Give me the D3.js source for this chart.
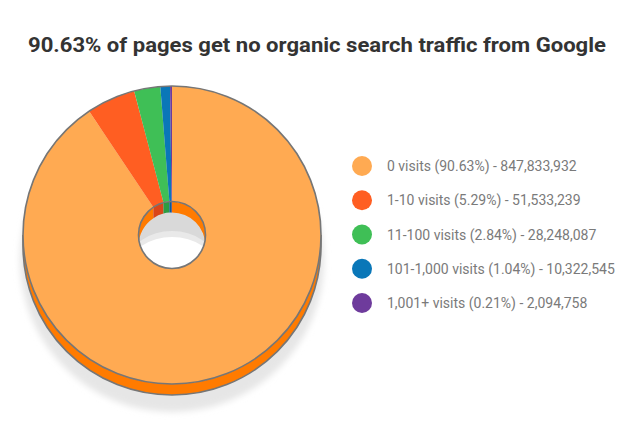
<!DOCTYPE html>
<html>
<head>
<meta charset="utf-8">
<script src="https://cdn.jsdelivr.net/npm/d3@7"></script>
<style>
  body { margin: 0; background: #fff; }
  svg { display: block; }
</style>
</head>
<body>
<script>
const title = "90.63% of pages get no organic search traffic from Google";
const categories = ["0 visits", "1-10 visits", "11-100 visits", "101-1,000 visits", "1,001+ visits"];
const percents = [90.63, 5.29, 2.84, 1.04, 0.21];
const pageCounts = [847833932, 51533239, 28248087, 10322545, 2094758];
const colors = ["#ffaa52", "#ff5e22", "#3fbf56", "#0a77b8", "#6e3b9c"];
const sideColors = ["#ff7b00", "#d9461a", "#2c9c42", "#075e94", "#52287a"];

const width = 632, height = 425;
const cx = 172, cy = 235, R = 149, r = 33.5, depth = 11;

const svg = d3.select("body").append("svg")
  .attr("width", width)
  .attr("height", height);

const defs = svg.append("defs");
defs.append("filter").attr("id", "blur")
  .attr("x", "-10%").attr("y", "-10%").attr("width", "120%").attr("height", "120%")
  .append("feGaussianBlur").attr("stdDeviation", 3);
defs.append("clipPath").attr("id", "hole")
  .append("circle").attr("cx", cx).attr("cy", cy).attr("r", r);

// title
svg.append("text")
  .attr("x", 317)
  .attr("y", 52)
  .attr("text-anchor", "middle")
  .style("font-family", "Roboto, sans-serif")
  .style("font-weight", 700)
  .style("font-size", "20px")
  .attr("fill", "#333")
  .attr("textLength", 578)
  .attr("lengthAdjust", "spacingAndGlyphs")
  .text(title);

const pie = d3.pie().sort(null).value(d => d.pct);
const slices = pie(categories.map((c, i) => ({ name: c, pct: percents[i], count: pageCounts[i], i })));

// band between an arc and the same arc moved down by depth
function wallPath(a0, a1, rad) {
  const p = d3.path();
  p.moveTo(cx + rad * Math.sin(a0), cy - rad * Math.cos(a0));
  p.arc(cx, cy, rad, a0 - Math.PI / 2, a1 - Math.PI / 2);
  p.lineTo(cx + rad * Math.sin(a1), cy + depth - rad * Math.cos(a1));
  p.arc(cx, cy + depth, rad, a1 - Math.PI / 2, a0 - Math.PI / 2, true);
  p.closePath();
  return p.toString();
}

function clipRange(d, lo, hi) {
  const a0 = Math.max(d.startAngle, lo), a1 = Math.min(d.endAngle, hi);
  return a1 > a0 ? [a0, a1] : null;
}

// shadow
svg.append("circle")
  .attr("cx", cx)
  .attr("cy", cy + 25)
  .attr("r", R + 3)
  .attr("fill", "#e6e6e6")
  .attr("filter", "url(#blur)");

// outer side of the disc (only the lower half shows)
const outerSide = [];
slices.forEach(d => {
  const rg = clipRange(d, Math.PI / 2, 3 * Math.PI / 2);
  if (rg) outerSide.push({ rg, i: d.data.i });
});
svg.append("g").selectAll("path")
  .data(outerSide)
  .join("path")
  .attr("d", s => wallPath(s.rg[0], s.rg[1], R))
  .attr("fill", s => sideColors[s.i]);

const rim = d3.path();
rim.moveTo(cx + R, cy);
rim.lineTo(cx + R, cy + depth);
rim.arc(cx, cy + depth, R, 0, Math.PI);
rim.lineTo(cx - R, cy);
svg.append("path")
  .attr("d", rim.toString())
  .attr("fill", "none")
  .attr("stroke", "#767676")
  .attr("stroke-width", 1.6);

// top face
const arc = d3.arc().innerRadius(r).outerRadius(R);
svg.append("g")
  .attr("transform", `translate(${cx},${cy})`)
  .selectAll("path")
  .data(slices)
  .join("path")
  .attr("d", arc)
  .attr("fill", d => colors[d.data.i]);

svg.append("circle")
  .attr("cx", cx).attr("cy", cy).attr("r", R)
  .attr("fill", "none")
  .attr("stroke", "#767676")
  .attr("stroke-width", 1.6);

// the hole: shaded floor, then the far wall
const hole = svg.append("g").attr("clip-path", "url(#hole)");
hole.append("circle").attr("cx", cx).attr("cy", cy).attr("r", r).attr("fill", "#d9d9d9");
hole.append("ellipse").attr("cx", cx).attr("cy", cy + 26).attr("rx", 42).attr("ry", 30).attr("fill", "#e9e9e9");
hole.append("ellipse").attr("cx", cx).attr("cy", cy + 31).attr("rx", 42).attr("ry", 29).attr("fill", "#ffffff");

const innerWall = [];
slices.forEach(d => {
  [[0, Math.PI / 2], [3 * Math.PI / 2, 2 * Math.PI]].forEach(([lo, hi]) => {
    const rg = clipRange(d, lo, hi);
    if (rg) innerWall.push({ rg, i: d.data.i });
  });
});
hole.append("g").selectAll("path")
  .data(innerWall)
  .join("path")
  .attr("d", s => wallPath(s.rg[0], s.rg[1], r))
  .attr("fill", s => sideColors[s.i]);

svg.append("circle")
  .attr("cx", cx).attr("cy", cy).attr("r", r)
  .attr("fill", "none")
  .attr("stroke", "#767676")
  .attr("stroke-width", 1.6);

// legend
const y = d3.scalePoint().domain(categories).range([166, 303]);
const fmt = d3.format(",");
const pctFmt = d3.format(".2f");

const legend = svg.append("g").selectAll("g")
  .data(slices)
  .join("g")
  .attr("transform", d => `translate(362,${y(d.data.name)})`);

legend.append("circle")
  .attr("r", 10)
  .attr("fill", d => colors[d.data.i]);

legend.append("text")
  .attr("x", 25)
  .attr("y", 5)
  .style("font-family", "Roboto, sans-serif")
  .style("font-size", "14px")
  .attr("fill", "#7a7a7a")
  .text(d => `${d.data.name} (${pctFmt(d.data.pct)}%) - ${fmt(d.data.count)}`);
</script>
</body>
</html>
